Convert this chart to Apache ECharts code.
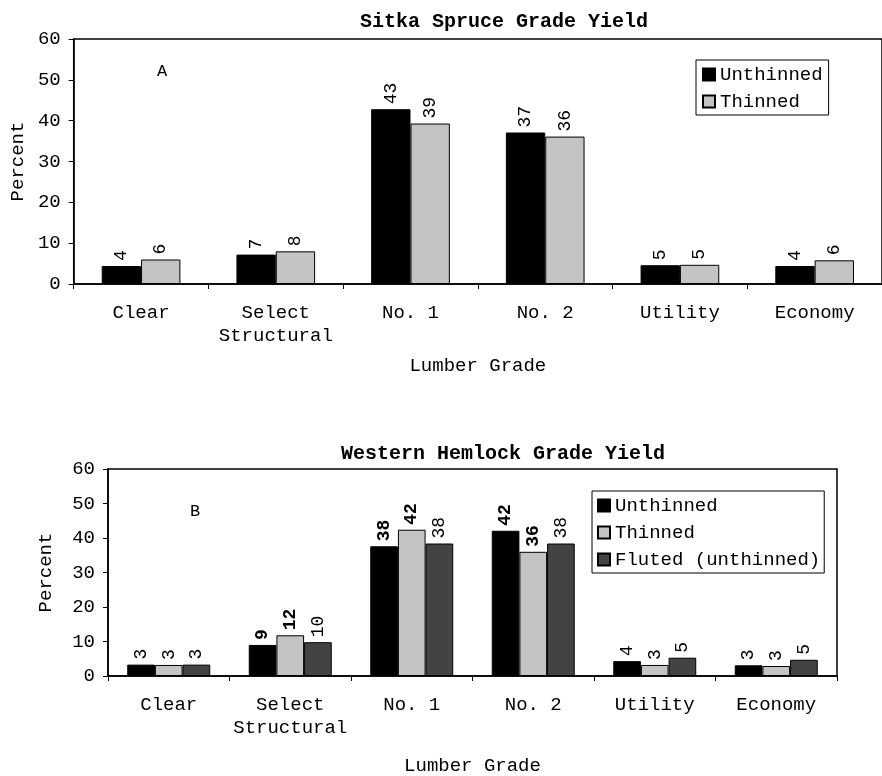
<!DOCTYPE html>
<html>
<head>
<meta charset="utf-8">
<script src="https://cdn.jsdelivr.net/npm/echarts@6/dist/echarts.min.js"></script>
<style>
html,body{margin:0;padding:0;background:#fff;}
#chart{width:882px;height:776px;}
</style>
</head>
<body>
<div id="chart"></div>
<script>
// ---- data ----
const categories = ['Clear', 'Select\nStructural', 'No. 1', 'No. 2', 'Utility', 'Economy'];
const yTicks = [0, 10, 20, 30, 40, 50, 60];

// Panel A: Sitka Spruce
const sitkaUnthinned = [4.4, 7.2, 42.8, 37.1, 4.6, 4.4];
const sitkaThinned   = [6.0, 8.0, 39.3, 36.1, 4.7, 5.8];

// Panel B: Western Hemlock
const hemlockUnthinned = [3.3, 9.0, 37.6, 42.1, 4.3, 3.1];
const hemlockThinned   = [3.2, 11.8, 42.4, 36.0, 3.2, 2.9];
const hemlockFluted    = [3.3, 9.8, 38.4, 38.4, 5.3, 4.7];

// ---- styles ----
const FONT = '"Liberation Mono", "DejaVu Sans Mono", monospace';
const COLORS = { Unthinned: '#000000', Thinned: '#c4c4c4', 'Fluted (unthinned)': '#434343' };
const boldIdx = { Unthinned: [1, 2, 3], Thinned: [1, 2, 3] }; // bold value labels in panel B

const chart = echarts.init(document.getElementById('chart'), null, { renderer: 'canvas' });

function mkSeries(name, values, gridIdx, bold, catGap) {
  return {
    type: 'bar', name: name, xAxisIndex: gridIdx, yAxisIndex: gridIdx,
    barGap: '0%', barCategoryGap: catGap,
    data: values.map((v, i) => {
      const item = { value: v };
      if (bold && bold.indexOf(i) >= 0) item.label = { fontWeight: 'bold' };
      return item;
    }),
    itemStyle: { color: COLORS[name], borderColor: '#000', borderWidth: 1 },
    label: {
      show: true, position: 'top', rotate: 90, align: 'left', verticalAlign: 'middle',
      distance: 5, fontFamily: FONT, fontSize: 18, color: '#000',
      formatter: p => String(Math.round(p.value))
    },
    emphasis: { disabled: true }
  };
}

const axisLbl = { fontFamily: FONT, fontSize: 19, color: '#000' };

function xAxis(gridIdx, gap) {
  return {
    type: 'category', gridIndex: gridIdx, data: categories,
    axisLine: { lineStyle: { color: '#000', width: 1.5 } },
    axisTick: { show: true, length: 5, lineStyle: { color: '#000' } },
    axisLabel: Object.assign({ interval: 0, margin: 17, lineHeight: 23 }, axisLbl),
    name: 'Lumber Grade', nameLocation: 'middle', nameGap: gap,
    nameTextStyle: { fontFamily: FONT, fontSize: 19, color: '#000' }
  };
}
function yAxis(gridIdx, gap) {
  return {
    type: 'value', gridIndex: gridIdx, min: yTicks[0], max: yTicks[yTicks.length - 1], interval: 10,
    axisLine: { show: true, lineStyle: { color: '#000', width: 1.5 } },
    axisTick: { show: true, length: 5, lineStyle: { color: '#000' } },
    splitLine: { show: false },
    axisLabel: Object.assign({ margin: 13 }, axisLbl),
    name: 'Percent', nameLocation: 'middle', nameGap: gap, nameRotate: 90,
    nameTextStyle: { fontFamily: FONT, fontSize: 19, color: '#000' }
  };
}

const option = {
  animation: false,
  backgroundColor: '#fff',
  title: [
    { text: 'Sitka Spruce Grade Yield', left: 499, top: 7, textAlign: 'center',
      textStyle: { fontFamily: FONT, fontWeight: 'bold', fontSize: 20, color: '#000' } },
    { text: 'Western Hemlock Grade Yield', left: 498, top: 439, textAlign: 'center',
      textStyle: { fontFamily: FONT, fontWeight: 'bold', fontSize: 20, color: '#000' } }
  ],
  grid: [
    { left: 72, top: 39, right: -9, height: 245, show: true, borderColor: '#000', borderWidth: 1.5 },
    { left: 108, top: 469, right: 45, height: 217, show: true, borderColor: '#000', borderWidth: 1.5 }
  ],
  legend: [
    { data: ['Unthinned', 'Thinned'], orient: 'vertical', left: 696, top: 60,
      itemWidth: 12, itemHeight: 12, itemGap: 8, padding: [5, 6, 4, 6],
      borderColor: '#000', borderWidth: 1, backgroundColor: '#fff', icon: 'rect',
      textStyle: { fontFamily: FONT, fontSize: 19, color: '#000' } },
    { data: ['Unthinned', 'Thinned', 'Fluted (unthinned)'], orient: 'vertical', left: 592, top: 491,
      itemWidth: 12, itemHeight: 12, itemGap: 8, padding: [5, 4, 4, 5],
      borderColor: '#000', borderWidth: 1, backgroundColor: '#fff', icon: 'rect',
      textStyle: { fontFamily: FONT, fontSize: 19, color: '#000' } }
  ],
  xAxis: [xAxis(0, 72), xAxis(1, 80)],
  yAxis: [yAxis(0, 46), yAxis(1, 53)],
  series: [
    mkSeries('Unthinned', sitkaUnthinned, 0, null, '41.6%'),
    mkSeries('Thinned', sitkaThinned, 0, null, '41.6%'),
    mkSeries('Unthinned', hemlockUnthinned, 1, boldIdx.Unthinned, '31.7%'),
    mkSeries('Thinned', hemlockThinned, 1, boldIdx.Thinned, '31.7%'),
    mkSeries('Fluted (unthinned)', hemlockFluted, 1, null, '31.7%')
  ],
  graphic: [
    { type: 'text', left: 157, top: 63, style: { text: 'A', font: '17px ' + FONT, fill: '#000' } },
    { type: 'text', left: 190, top: 503, style: { text: 'B', font: '17px ' + FONT, fill: '#000' } }
  ]
};
chart.setOption(option);
</script>
</body>
</html>
